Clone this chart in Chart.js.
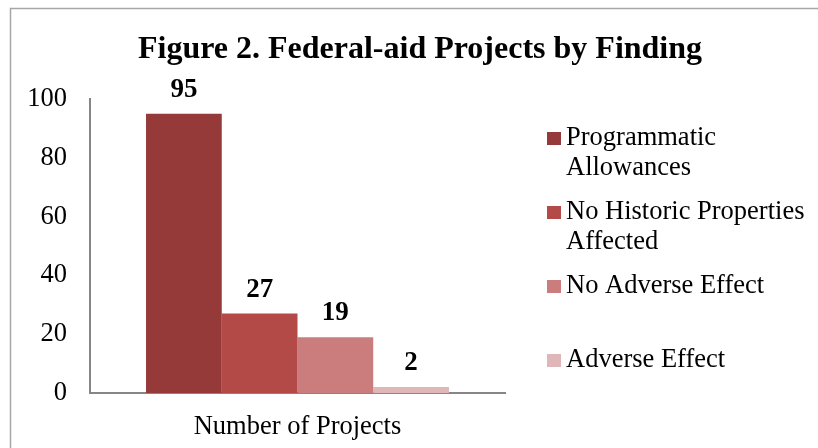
<!DOCTYPE html>
<html>
<head>
<meta charset="utf-8">
<script src="https://cdn.jsdelivr.net/npm/chart.js@4"></script>
<style>
  html, body { margin: 0; padding: 0; background: #fff; }
  #wrap { width: 818px; height: 448px; }
</style>
</head>
<body>
<div id="wrap"><canvas id="findingChart" width="818" height="448"></canvas></div>
<script>
const categories = ['Number of Projects'];
const findings = ['Programmatic\nAllowances', 'No Historic Properties\nAffected', 'No Adverse Effect', 'Adverse Effect'];
const projectCounts = [95, 27, 19, 2];
const yTicks = [0, 20, 40, 60, 80, 100];
const barColors = ['#953A39', '#B44A48', '#CB7D7D', '#E0B7B8'];

const serif = '"Liberation Serif", "Times New Roman", serif';

// gray frame round the whole chart, cut off at right/bottom like the picture
const chartFrame = {
  id: 'chartFrame',
  beforeDraw(chart) {
    const {ctx} = chart;
    ctx.save();
    ctx.strokeStyle = '#A6A6A6';
    ctx.lineWidth = 1.5;
    ctx.strokeRect(10.5, 8.5, chart.width + 20, chart.height + 20);
    ctx.restore();
  }
};

// value labels above each bar
const valueLabels = {
  id: 'valueLabels',
  afterDatasetsDraw(chart) {
    const {ctx} = chart;
    ctx.save();
    ctx.font = 'bold 27px ' + serif;
    ctx.fillStyle = '#000';
    ctx.textAlign = 'center';
    ctx.textBaseline = 'middle';
    chart.data.datasets.forEach((ds, i) => {
      const bar = chart.getDatasetMeta(i).data[0];
      ctx.fillText(String(ds.data[0]), bar.x, bar.y - 24);
    });
    ctx.restore();
  }
};

// legend on the right with wrapped labels in equal slots
const sideLegend = {
  id: 'sideLegend',
  afterDraw(chart) {
    const {ctx} = chart;
    ctx.save();
    ctx.font = '26.5px ' + serif;
    ctx.textBaseline = 'middle';
    ctx.textAlign = 'left';
    chart.data.datasets.forEach((ds, i) => {
      const top = 138 + i * 74;
      ctx.fillStyle = ds.backgroundColor;
      ctx.fillRect(547, top - 6, 14, 13);
      ctx.fillStyle = '#000';
      ds.label.split('\n').forEach((line, j) => {
        ctx.fillText(line, 566, top + j * 30);
      });
    });
    ctx.restore();
  }
};

const datasets = findings.map((name, i) => ({
  label: name,
  data: [projectCounts[i]],
  backgroundColor: barColors[i],
  borderWidth: 0,
  categoryPercentage: 0.73,
  barPercentage: 1.0
}));

new Chart(document.getElementById('findingChart'), {
  type: 'bar',
  data: { labels: categories, datasets: datasets },
  options: {
    responsive: false,
    animation: false,
    layout: { padding: { left: 22, right: 0, top: 0, bottom: 0 } },
    plugins: {
      legend: { display: false },
      tooltip: { enabled: false },
      title: {
        display: true,
        text: 'Figure 2. Federal-aid Projects by Finding',
        color: '#000',
        font: { family: serif, size: 32, weight: 'bold', lineHeight: 1.2 },
        padding: { top: 31, bottom: 29.6 }
      }
    },
    scales: {
      x: {
        grid: { display: false, drawTicks: false },
        border: { display: true, color: '#868686', width: 2 },
        ticks: { color: '#000', font: { family: serif, size: 26.5 }, padding: 18 },
        afterFit(scale) { scale.height = 55; }
      },
      y: {
        min: 0,
        max: 100,
        afterBuildTicks(scale) { scale.ticks = yTicks.map(v => ({ value: v })); },
        grid: { display: false, drawTicks: false },
        border: { display: true, color: '#868686', width: 2 },
        ticks: { color: '#000', font: { family: serif, size: 26.5 }, padding: 23 },
        afterFit(scale) { scale.width = 68; }
      },
      // empty right-hand box that keeps room for the legend
      legendRoom: {
        position: 'right',
        grid: { display: false, drawTicks: false },
        border: { display: false },
        ticks: { display: false },
        afterFit(scale) { scale.width = 313; }
      }
    }
  },
  plugins: [chartFrame, valueLabels, sideLegend]
});
</script>
</body>
</html>
